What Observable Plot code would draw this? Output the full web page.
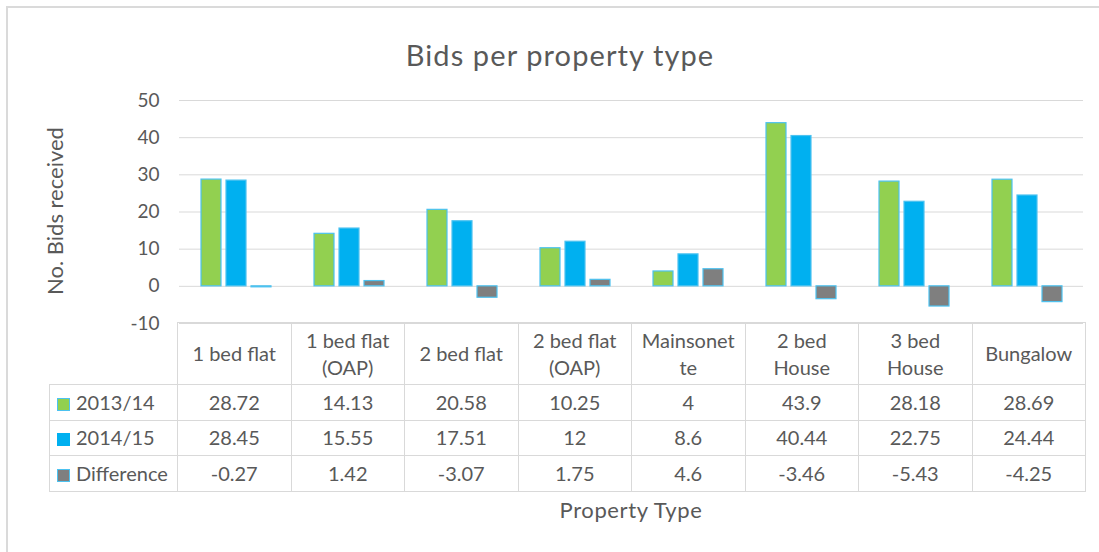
<!DOCTYPE html>
<html><head><meta charset="utf-8">
<script src="https://cdn.jsdelivr.net/npm/d3@7"></script>
<script src="https://cdn.jsdelivr.net/npm/@observablehq/plot@0.6"></script>
<style>
body{margin:0;background:#fff;}
#wrap{position:relative;width:1099px;height:552px;overflow:hidden;background:#fff;font-family:Lato,"Open Sans",sans-serif;color:#595959;}
#frame{position:absolute;left:6px;top:6px;width:1200px;height:700px;border-top:2px solid #dadada;border-left:2px solid #dadada;}
#title{position:absolute;left:0;width:1120px;top:38px;line-height:34px;text-align:center;font-size:29px;letter-spacing:1.1px;}
#ylab{position:absolute;left:-45px;width:200px;top:198px;height:26px;line-height:26px;font-size:22px;text-align:center;transform:rotate(-90deg);transform-origin:center;white-space:nowrap;}
#xlab{position:absolute;left:177px;width:908px;top:497px;line-height:26px;font-size:22px;letter-spacing:0.6px;text-align:center;}
#plot{position:absolute;left:0;top:0;}
#tbl{position:absolute;left:49px;top:322px;border-collapse:collapse;table-layout:fixed;font-size:20px;color:#595959;}
#tbl td{border:1px solid #d9d9d9;text-align:center;vertical-align:middle;padding:0;white-space:pre-line;line-height:27px;}
#tbl td.corner{border-top:none;border-left:none;}
#tbl td.leg{text-align:left;padding-left:7px;white-space:nowrap;}
.sw{display:inline-block;width:11px;height:11px;border:1px solid;margin-right:6px;vertical-align:-1px;}
</style>
</head><body>
<div id="wrap">
  <div id="frame"></div>
  <div id="title">Bids per property type</div>
  <div id="plot"></div>
  <div id="ylab">No. Bids received</div>
  <table id="tbl"></table>
  <div id="xlab">Property Type</div>
</div>
<script>
const categories = ["1 bed flat","1 bed flat (OAP)","2 bed flat","2 bed flat (OAP)","Mainsonette","2 bed House","3 bed House","Bungalow"];
const headerLabels = ["1 bed flat","1 bed flat\n(OAP)","2 bed flat","2 bed flat\n(OAP)","Mainsonet\nte","2 bed\nHouse","3 bed\nHouse","Bungalow"];
const series = ["2013/14","2014/15","Difference"];
const values2013 = [28.72,14.13,20.58,10.25,4,43.9,28.18,28.69];
const values2014 = [28.45,15.55,17.51,12,8.6,40.44,22.75,24.44];
const valuesDiff = [-0.27,1.42,-3.07,1.75,4.6,-3.46,-5.43,-4.25];
const yTicks = [-10,0,10,20,30,40,50];
const colors = ["#92d050","#00b0f0","#7f7f7f"];
const outlines = ["#4cc2f0","#00b0f0","#4cc2f0"];

const seriesValues = [values2013, values2014, valuesDiff];
const data = categories.flatMap((c,i)=>series.map((s,j)=>({category:c, series:s, value:seriesValues[j][i]})));

const chart = Plot.plot({
  width:1099, height:323, marginTop:100, marginLeft:177, marginRight:14, marginBottom:0,
  style:{fontFamily:"Lato, 'Open Sans', sans-serif", fontSize:"19px", color:"#595959", background:"transparent", overflow:"visible"},
  fx:{domain:categories, padding:0, axis:null},
  x:{domain:series, paddingInner:0.2, paddingOuter:0.8, axis:null},
  y:{domain:[-10,50], ticks:yTicks, tickSize:0, tickPadding:20, label:null, tickFormat:d=>String(d)},
  color:{domain:series, range:colors},
  marks:[
    Plot.ruleY(yTicks, {stroke:"#d9d9d9", strokeWidth:1}),
    Plot.barY(data, {fx:"category", x:"series", y:"value", fill:"series", stroke:"#4cc2f0", strokeWidth:1.2})
  ]
});
document.getElementById("plot").appendChild(chart);

// data table
const tbl = document.getElementById("tbl");
const cg = document.createElement("colgroup");
cg.innerHTML = `<col style="width:128px">` + categories.map(()=>`<col style="width:113.5px">`).join("");
tbl.appendChild(cg);
const hr = document.createElement("tr");
hr.style.height = "62px";
hr.innerHTML = `<td class="corner"></td>` + headerLabels.map(h=>`<td>${h}</td>`).join("");
tbl.appendChild(hr);
series.forEach((s,j)=>{
  const tr = document.createElement("tr");
  tr.style.height = "35.5px";
  tr.innerHTML = `<td class="leg"><span class="sw" style="background:${colors[j]};border-color:${outlines[j]}"></span>${s}</td>` +
    seriesValues[j].map(v=>`<td>${String(v)}</td>`).join("");
  tbl.appendChild(tr);
});
</script>
</body></html>
